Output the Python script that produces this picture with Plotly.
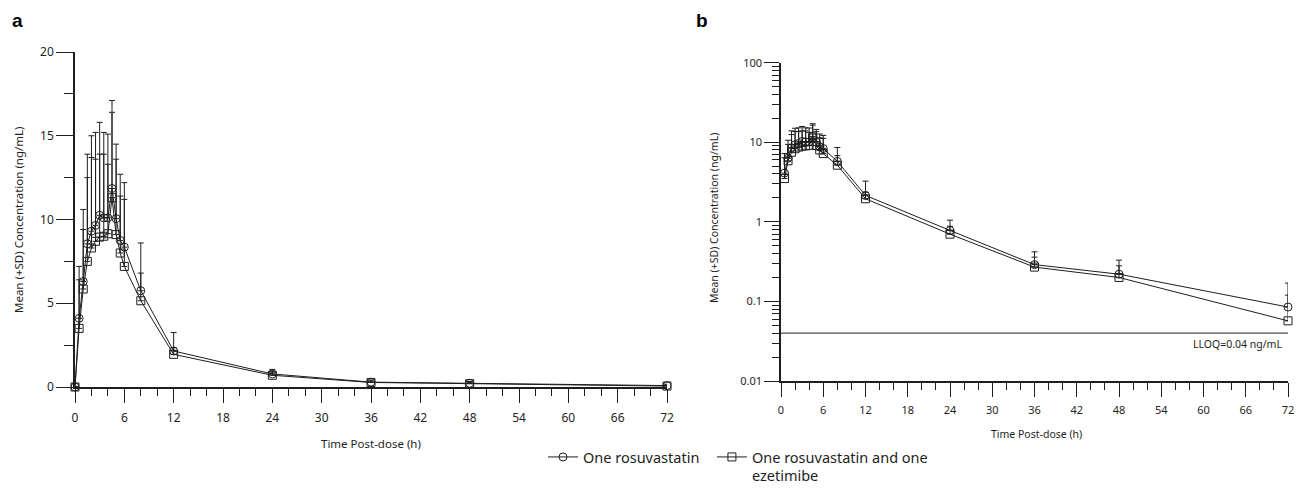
import plotly.graph_objects as go
import numpy as np

# tempos de coleta (h)
tempo = [0, 0.5, 1, 1.5, 2, 2.5, 3, 3.5, 4, 4.5, 5, 5.5, 6, 8, 12, 24, 36, 48, 72]

# média e média+DP, um comprimido de rosuvastatina
rosu_media = [0, 4.1, 6.3, 8.55, 9.3, 9.65, 10.25, 10.1, 10.1, 11.85, 10.05, 8.75, 8.35, 5.75, 2.15, 0.78, 0.29, 0.22, 0.085]
rosu_sup = [0, 7.2, 10.6, 13.9, 15.0, 15.2, 15.8, 15.2, 15.1, 17.1, 14.5, 12.7, 12.2, 8.6, 3.25, 1.05, 0.42, 0.33, 0.17]

# rosuvastatina + ezetimiba
comb_media = [0, 3.5, 5.85, 7.5, 8.3, 8.7, 8.95, 9.0, 9.15, 11.3, 9.1, 8.0, 7.2, 5.15, 1.95, 0.70, 0.27, 0.20, 0.057]
comb_sup = [0, 6.4, 9.4, 12.5, 13.7, 13.6, 13.9, 13.9, 13.3, 16.4, 13.6, 11.4, 11.2, 6.8, 2.35, 0.88, 0.36, 0.28, 0.12]

nomes = ["One rosuvastatin&nbsp;&nbsp;", "One rosuvastatin and one<br>ezetimibe"]
simbolos = ["circle-open", "square-open"]
lloq = 0.04

cor = "#1e1e1e"
fonte = "Noto Sans"

# a página tem margem de 8 px no body; figura do tamanho do body para não cortar
W, H, OFF = 1288, 484, 8


def px(x):
    return (x - OFF) / W


def py(y):
    return 1 - (y - OFF) / H


fig = go.Figure()

series = [(rosu_media, rosu_sup), (comb_media, comb_sup)]
for i, (media, sup) in enumerate(series):
    erro = [s - m for s, m in zip(sup, media)]
    # painel a (linear)
    fig.add_trace(go.Scatter(
        x=tempo, y=media, name=nomes[i], mode="lines+markers",
        line=dict(color=cor, width=1),
        marker=dict(symbol=simbolos[i], size=8, color=cor, line=dict(width=1)),
        error_y=dict(type="data", symmetric=False, array=erro, arrayminus=[0] * len(erro),
                     color=cor, thickness=1, width=3),
        cliponaxis=False, xaxis="x", yaxis="y"))
    # painel b (log), sem o ponto zero
    fig.add_trace(go.Scatter(
        x=tempo[1:], y=media[1:], name=nomes[i], mode="lines+markers", showlegend=False,
        line=dict(color=cor, width=1),
        marker=dict(symbol=simbolos[i], size=8, color=cor, line=dict(width=1)),
        error_y=dict(type="data", symmetric=False, array=erro[1:], arrayminus=[0] * (len(erro) - 1),
                     color=cor, thickness=1, width=3),
        cliponaxis=False, xaxis="x2", yaxis="y2"))

# linha do LLOQ
fig.add_trace(go.Scatter(x=[0, 72], y=[lloq, lloq], mode="lines", showlegend=False,
                         line=dict(color=cor, width=1), xaxis="x2", yaxis="y2", hoverinfo="skip"))

eixo = dict(showline=True, linecolor=cor, linewidth=1.5, showgrid=False, zeroline=False,
            automargin=False, ticks="outside", tickcolor=cor, ticklabeloverflow="allow",
            tickfont=dict(family=fonte, size=12, color=cor))

minor_log = [d * 10.0 ** e for e in range(-2, 2) for d in range(2, 10)]


def texto(t, x, y, tam, ang=0):
    return dict(text=t, x=px(x), y=py(y), xref="paper", yref="paper", showarrow=False,
                xanchor="center", yanchor="middle", textangle=ang,
                font=dict(family=fonte, size=tam, color=cor))


fig.update_layout(
    width=W, height=H, plot_bgcolor="white", paper_bgcolor="white",
    margin=dict(l=0, r=0, t=0, b=0, autoexpand=False),
    font=dict(family=fonte, color=cor),
    xaxis=dict(eixo, domain=[px(75), px(667)], range=[0, 72], tickvals=list(range(0, 73, 6)),
               ticklen=14, ticklabelstandoff=5,
               minor=dict(dtick=2, ticklen=7, ticks="outside", tickcolor=cor),
               anchor="y"),
    yaxis=dict(eixo, domain=[py(387), py(52)], range=[0, 20], tickvals=[0, 5, 10, 15, 20],
               ticklen=17, minor=dict(dtick=2.5, ticklen=9, ticks="outside", tickcolor=cor),
               anchor="x"),
    xaxis2=dict(eixo, domain=[px(781), px(1288)], range=[0, 72], tickvals=list(range(0, 73, 6)),
                ticklen=14, ticklabelstandoff=4, tickfont=dict(family=fonte, size=11, color=cor),
                minor=dict(dtick=2, ticklen=7, ticks="outside", tickcolor=cor),
                anchor="y2"),
    yaxis2=dict(eixo, domain=[py(381), py(62.7)], type="log", range=[-2, 2],
                tickvals=[0.01, 0.1, 1, 10, 100], ticktext=["0.01", "0.1", "1", "10", "100"],
                ticklen=15, tickfont=dict(family=fonte, size=11, color=cor),
                minor=dict(tickvals=minor_log, ticklen=7, ticks="outside", tickcolor=cor),
                anchor="x2"),
    legend=dict(orientation="h", x=px(543), y=py(441), xanchor="left", yanchor="top",
                font=dict(family=fonte, size=14.5, color=cor), itemwidth=30, valign="top"),
    annotations=[
        dict(text="<b>a</b>", x=px(10), y=py(8), xref="paper", yref="paper", showarrow=False,
             xanchor="left", yanchor="top", font=dict(family="Liberation Sans", size=19, color="black")),
        dict(text="<b>b</b>", x=px(694), y=py(8), xref="paper", yref="paper", showarrow=False,
             xanchor="left", yanchor="top", font=dict(family="Liberation Sans", size=19, color="black")),
        texto("Mean (+SD) Concentration (ng/mL)", 18, 220, 11.5, -90),
        texto("Time Post-dose (h)", 371, 443, 11.5),
        texto("Mean (+SD) Concentration (ng/mL)", 714, 218, 10.5, -90),
        texto("Time Post-dose (h)", 1036, 434, 10.5),
        dict(text="LLOQ=0.04 ng/mL", x=72, y=np.log10(lloq), xref="x2", yref="y2", showarrow=False,
             xanchor="right", yanchor="top", xshift=-4, yshift=-2,
             font=dict(family=fonte, size=10.5, color=cor)),
    ],
)

fig.write_html("out.html")
